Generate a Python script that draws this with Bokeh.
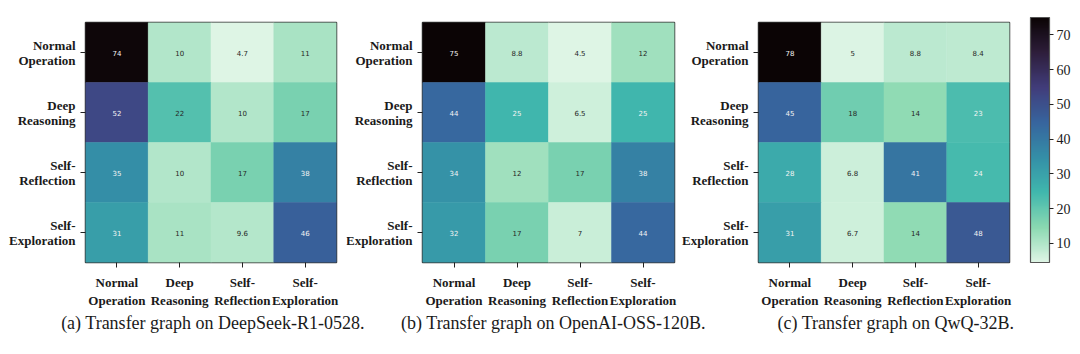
import numpy as np
from bokeh.plotting import figure
from bokeh.models import (ColumnDataSource, LinearColorMapper, ColorBar, FixedTicker,
                          FactorRange, Range1d, CustomJSTickFormatter)
from bokeh.layouts import row, column
from bokeh.transform import transform
from bokeh.core.properties import value
from bokeh.embed import file_html
from bokeh.resources import INLINE

# ---------------- data ----------------
categories = ["Normal\nOperation", "Deep\nReasoning", "Self-\nReflection", "Self-\nExploration"]
deepseek_r1 = [[74, 10, 4.7, 11], [52, 22, 10, 17], [35, 10, 17, 38], [31, 11, 9.6, 46]]
oss_120b = [[75, 8.8, 4.5, 12], [44, 25, 6.5, 25], [34, 12, 17, 38], [32, 17, 7, 44]]
qwq_32b = [[78, 5, 8.8, 8.4], [45, 18, 14, 23], [28, 6.8, 41, 24], [31, 6.7, 14, 48]]
captions = ["(a) Transfer graph on DeepSeek-R1-0528.",
            "(b) Transfer graph on OpenAI-OSS-120B.",
            "(c) Transfer graph on QwQ-32B."]
cbar_low, cbar_high = 4.5, 75
cbar_ticks = [10, 20, 30, 40, 50, 60, 70]

# ---------------- colormap (mako reversed) ----------------
stops = ["#DEF5E5", "#8AD9B1", "#40B7AD", "#348FA7", "#37659E", "#413D7B", "#2E1E3B", "#0B0405"]
stop_rgb = np.array([[int(s[i:i + 2], 16) for i in (1, 3, 5)] for s in stops], dtype=float)
stop_pos = np.linspace(0, 1, len(stops))
grid = np.linspace(0, 1, 256)
pal_rgb = np.stack([np.interp(grid, stop_pos, stop_rgb[:, k]) for k in range(3)], axis=1)
palette = ["#%02x%02x%02x" % tuple(int(round(c)) for c in rgb) for rgb in pal_rgb]


def text_color(v):
    t = min(max((v - cbar_low) / (cbar_high - cbar_low), 0), 1)
    rgb = np.array([np.interp(t, stop_pos, stop_rgb[:, k]) for k in range(3)]) / 255.0
    lin = np.where(rgb <= 0.03928, rgb / 12.92, ((rgb + 0.055) / 1.055) ** 2.4)
    lum = 0.2126 * lin[0] + 0.7152 * lin[1] + 0.0722 * lin[2]
    return "#262626" if lum > 0.408 else "#f4f4f4"


mapper = LinearColorMapper(palette=palette, low=cbar_low, high=cbar_high)

SERIF = "Liberation Serif"
TOP, BOTTOM, ROW_H = 22, 44, 310
TICK_GAP = 9


def make_labels(width, y_range):
    """Narrow strip that carries the right-aligned two-line row labels."""
    first = [c.split("\n")[0] for c in categories]
    second = [c.split("\n")[1] for c in categories]
    src = ColumnDataSource(dict(y=categories, l1=first, l2=second, x=[1.0] * len(categories)))
    p = figure(x_range=Range1d(0, 1), y_range=y_range, width=width, height=ROW_H,
               output_backend="svg", toolbar_location=None, min_border_left=0,
               min_border_right=0, min_border_top=TOP, min_border_bottom=BOTTOM)
    p.axis.visible = False
    p.grid.visible = False
    p.outline_line_color = None
    for col_name, yoff in (("l1", -7.5), ("l2", 7.5)):
        p.text("x", "y", text=col_name, source=src, x_offset=-1, y_offset=yoff,
               text_align="right", text_baseline="middle", text_font=value(SERIF),
               text_font_style="bold", text_font_size="13px", text_color="#1a1a1a")
    return p


def make_heat(values, y_range, width, right, with_cbar=False):
    xs, ys, vs, labs, cols = [], [], [], [], []
    for i, r in enumerate(categories):
        for j, c in enumerate(categories):
            v = values[i][j]
            xs.append(c)
            ys.append(r)
            vs.append(v)
            labs.append(f"{v:.2g}")
            cols.append(text_color(v))
    src = ColumnDataSource(dict(x=xs, y=ys, v=vs, lab=labs, col=cols))
    p = figure(x_range=FactorRange(*categories), y_range=y_range,
               width=width, height=ROW_H, output_backend="svg", toolbar_location=None,
               min_border_left=TICK_GAP, min_border_right=right, min_border_top=TOP,
               min_border_bottom=BOTTOM)
    p.rect("x", "y", 1, 1, source=src, fill_color=transform("v", mapper),
           line_color=transform("v", mapper), line_width=0.5)
    p.text("x", "y", text="lab", source=src, text_color="col", text_align="center",
           text_baseline="middle", text_font_size="7px", text_font=value("DejaVu Sans"))
    p.grid.visible = False
    p.outline_line_color = "#3a3a3a"
    p.outline_line_width = 1.5
    p.background_fill_color = "white"
    p.border_fill_color = "white"
    for ax in (p.xaxis, p.yaxis):
        ax.axis_line_color = None
        ax.major_tick_out = 5
        ax.major_tick_in = 0
        ax.major_tick_line_color = "#222222"
        ax.major_label_text_font = SERIF
        ax.major_label_text_font_style = "bold"
        ax.major_label_text_font_size = "13px"
        ax.major_label_text_color = "#1a1a1a"
        ax.major_label_standoff = 7
    # row labels live in the strip on the left; the axis only keeps its ticks
    p.yaxis.formatter = CustomJSTickFormatter(code="return ''")
    p.yaxis.major_label_standoff = 0
    if with_cbar:
        cb = ColorBar(color_mapper=mapper, ticker=FixedTicker(ticks=cbar_ticks),
                      width=19, height=245, padding=0, margin=0, location=(21, 0),
                      major_tick_in=0, major_tick_out=4, major_tick_line_color="#222222",
                      bar_line_color="#555555", bar_line_width=1.2,
                      major_label_text_font=SERIF, major_label_text_font_size="14px",
                      major_label_text_color="#1a1a1a", label_standoff=3,
                      background_fill_color=None, border_line_color=None)
        p.add_layout(cb, "right")
    return p


# (label strip width, heatmap frame width, heatmap right border)
specs = [(76, 251, 10), (67, 252, 6), (69, 251, 71)]
datasets = [deepseek_r1, oss_120b, qwq_32b]
children, centres, offset = [], [], 0
for k, ((lw, fw, rb), vals) in enumerate(zip(specs, datasets)):
    yr = FactorRange(*categories[::-1])
    children.append(make_labels(lw, yr))
    children.append(make_heat(vals, yr, TICK_GAP + fw + rb, rb, with_cbar=(k == 2)))
    frame_left = offset + lw + TICK_GAP
    centres.append(frame_left + fw / 2 + (2, 5, 12)[k])
    offset += lw + TICK_GAP + fw + rb

cap_h = 44
cap = figure(width=1080, height=cap_h, x_range=Range1d(0, 1080), y_range=Range1d(0, cap_h),
             output_backend="svg", toolbar_location=None, min_border=0)
cap.axis.visible = False
cap.grid.visible = False
cap.outline_line_color = None
cap.text(x=centres, y=[cap_h - 12] * 3, text=captions, text_align="center",
         text_baseline="middle", text_font=value(SERIF), text_font_size="18px",
         text_color="#1a1a1a")

layout = column(row(*children, spacing=0), cap, spacing=0)
open("out.html", "w").write(file_html(layout, INLINE))
